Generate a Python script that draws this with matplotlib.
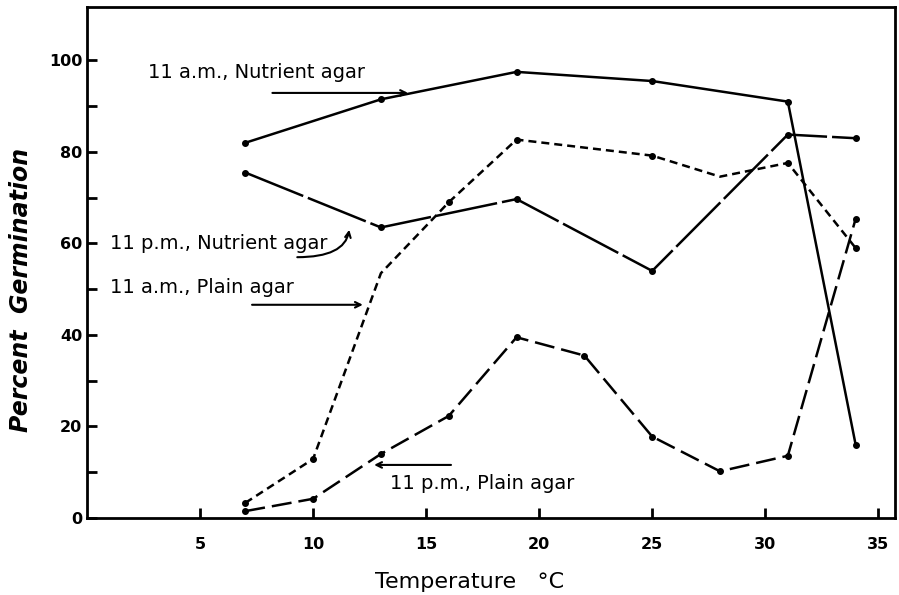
import matplotlib
matplotlib.use("Agg")
import matplotlib.pyplot as plt

# Temperature (deg C) and percent germination
temp_am_nutrient = [7, 13, 19, 25, 31, 34]
germ_am_nutrient = [82, 91.5, 97.5, 95.5, 91, 16]

temp_pm_nutrient = [7, 13, 19, 25, 31, 34]
germ_pm_nutrient = [75.5, 63.5, 69.7, 54, 83.8, 83]

temp_am_plain = [7, 10, 13, 16, 19, 25, 28, 31, 34]
germ_am_plain = [3.3, 12.9, 53.5, 69, 82.7, 79.2, 74.6, 77.6, 59]

temp_pm_plain = [7, 10, 13, 16, 19, 22, 25, 28, 31, 34]
germ_pm_plain = [1.5, 4.2, 14, 22.3, 39.5, 35.5, 17.8, 10.2, 13.6, 65.4]

x_ticks = [5, 10, 15, 20, 25, 30, 35]
y_ticks = [0, 20, 40, 60, 80, 100]
y_minor = [10, 30, 50, 70, 90]


def main():
    W, H = 899, 595
    fig = plt.figure(figsize=(W / 100, H / 100), dpi=100)
    ax = fig.add_axes([0.0968, 0.1294, 0.899, 0.859])

    lw = 1.8
    ax.plot(temp_am_nutrient, germ_am_nutrient, color="k", lw=lw,
            marker="o", ms=4)
    l2, = ax.plot(temp_pm_nutrient, germ_pm_nutrient, color="k", lw=lw,
                  marker="o", ms=4)
    l2.set_dashes([25, 2])
    l3, = ax.plot(temp_am_plain, germ_am_plain, color="k", lw=lw,
                  marker="o", ms=4, markevery=[0, 1, 3, 4, 5, 7, 8])
    l3.set_dashes([3.2, 2])
    l4, = ax.plot(temp_pm_plain, germ_pm_plain, color="k", lw=lw,
                  marker="o", ms=4)
    l4.set_dashes([8, 2.8])

    ax.set_xlim(0, 35.75)
    ax.set_ylim(0, 111.7)
    ax.set_xticks(x_ticks)
    ax.set_yticks(y_ticks)
    ax.set_yticks(y_minor, minor=True)
    ax.tick_params(axis="both", which="both", direction="in", width=2,
                   length=7, labelsize=11.5)
    ax.tick_params(axis="x", pad=14)
    for lab in ax.get_xticklabels() + ax.get_yticklabels():
        lab.set_fontweight("bold")
    for sp in ax.spines.values():
        sp.set_linewidth(2)

    fig.text(470 / W, 1 - 582 / H, "Temperature   °C", fontsize=16,
             ha="center", va="center")
    fig.text(21 / W, 1 - 290 / H, "Percent  Germination", fontsize=17,
             style="italic", fontweight="bold", rotation=90,
             ha="center", va="center")

    txt = dict(fontsize=14, ha="left", va="center")
    ax.text(2.7, 97.3, "11 a.m., Nutrient agar", **txt)
    ax.text(1.0, 60.1, "11 p.m., Nutrient agar", **txt)
    ax.text(1.0, 50.3, "11 a.m., Plain agar", **txt)
    ax.text(13.4, 7.6, "11 p.m., Plain agar", **txt)

    arrow = dict(arrowstyle="->", color="k", lw=1.5, shrinkA=0, shrinkB=0)
    ax.annotate("", xy=(14.2, 92.9), xytext=(8.2, 92.9), arrowprops=arrow)
    ax.annotate("", xy=(11.6, 63.0), xytext=(9.3, 57.0),
                arrowprops=dict(arrow, connectionstyle="angle3,angleA=0,angleB=80"))
    ax.annotate("", xy=(12.2, 46.6), xytext=(7.3, 46.6), arrowprops=arrow)
    ax.annotate("", xy=(12.7, 11.6), xytext=(16.1, 11.6), arrowprops=arrow)

    fig.savefig("out.png", dpi=100)


if __name__ == "__main__":
    main()
